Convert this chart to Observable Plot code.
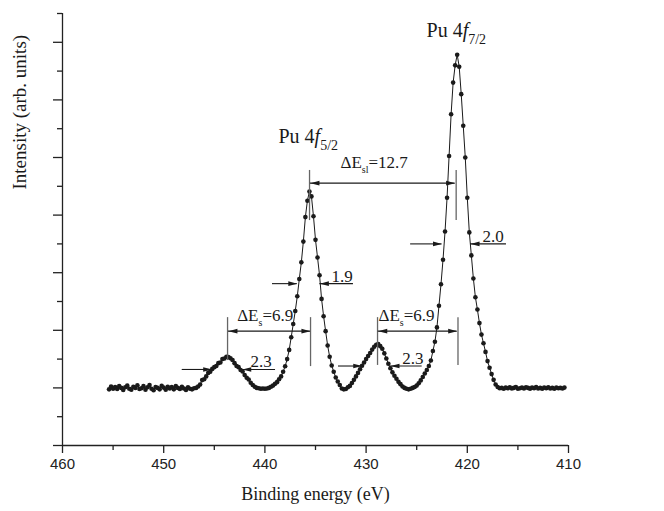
<!DOCTYPE html>
<html><head><meta charset="utf-8">
<script src="https://cdn.jsdelivr.net/npm/d3@7"></script>
<script src="https://cdn.jsdelivr.net/npm/@observablehq/plot@0.6"></script>
<style>body{margin:0;background:#fff}#chart{width:664px;height:511px}</style>
</head><body><div id="chart"></div>
<script>
// Binding energy grid (eV)
const energy = [
455.4,455.2,455.0,454.8,454.6,454.4,454.2,454.0,453.8,453.6,
453.4,453.2,453.0,452.8,452.6,452.4,452.2,452.0,451.8,451.6,
451.4,451.2,451.0,450.8,450.6,450.4,450.2,450.0,449.8,449.6,
449.4,449.2,449.0,448.8,448.6,448.4,448.2,448.0,447.8,447.6,
447.4,447.2,447.0,
446.8,446.6,446.4,446.2,446.0,445.8,445.6,445.4,445.2,445.0,
444.8,444.6,444.4,444.2,444.0,443.8,443.6,443.4,443.2,443.0,
442.8,442.6,442.4,442.2,442.0,441.8,441.6,441.4,441.2,441.0,
440.8,440.6,440.4,440.2,440.0,439.8,439.6,439.4,439.2,439.0,
438.8,438.6,438.4,438.2,438.0,
437.8,437.6,437.4,437.2,437.0,436.8,436.6,436.4,436.2,436.0,
435.8,435.6,435.4,435.2,435.0,434.8,434.6,434.4,434.2,434.0,
433.8,433.6,433.4,433.2,433.0,432.8,432.6,432.4,432.2,432.0,
431.8,431.6,431.4,431.2,431.0,430.8,430.6,430.4,430.2,430.0,
429.8,429.6,429.4,429.2,429.0,428.8,428.6,428.4,428.2,428.0,
427.8,427.6,427.4,427.2,427.0,
426.8,426.6,426.4,426.2,426.0,425.8,425.6,425.4,425.2,425.0,
424.8,424.6,424.4,424.2,424.0,423.8,423.6,423.4,423.2,423.0,
422.8,422.6,422.4,422.2,422.0,421.8,421.6,421.4,421.2,421.0,
420.8,420.6,420.4,420.2,420.0,419.8,419.6,419.4,419.2,419.0,
418.8,418.6,418.4,418.2,418.0,417.8,417.6,417.4,417.2,417.0,
416.8,416.6,416.4,416.2,416.0,415.8,415.6,415.4,415.2,415.0,
414.8,414.6,414.4,414.2,414.0,413.8,413.6,413.4,413.2,413.0,
412.8,412.6,412.4,412.2,412.0,411.8,411.6,411.4,411.2,411.0,
410.8,410.6,410.4
];
// Intensity (arb. units)
const intensity = [
1.95,2.05,1.97,2.03,1.96,2.06,2.00,1.93,2.02,2.08,
1.97,1.94,2.04,2.00,2.09,1.96,1.99,2.06,1.94,2.02,
2.10,1.97,1.92,2.03,2.00,1.95,2.07,2.01,1.94,2.04,
1.98,2.03,1.95,2.06,2.00,1.96,2.04,1.98,1.93,2.02,
1.97,1.95,1.99,
2.00,2.05,2.12,2.27,2.30,2.40,2.52,2.56,2.66,2.72,
2.76,2.86,2.88,3.00,3.02,3.08,3.07,3.03,2.97,2.86,
2.76,2.72,2.62,2.57,2.45,2.35,2.29,2.18,2.10,2.04,
2.00,1.99,1.97,1.98,1.97,1.98,2.00,2.04,2.08,2.14,
2.20,2.30,2.40,2.56,2.75,
3.00,3.32,3.76,4.22,4.67,5.18,5.78,6.36,7.08,7.93,
8.50,8.82,8.65,7.96,7.14,6.53,5.91,5.09,4.49,3.97,
3.47,3.08,2.78,2.56,2.36,2.22,2.10,1.98,1.95,1.96,
2.02,2.07,2.17,2.28,2.40,2.52,2.65,2.77,2.88,3.00,
3.11,3.21,3.33,3.43,3.50,3.52,3.45,3.36,3.20,3.02,
2.84,2.68,2.54,2.42,2.32,
2.21,2.13,2.05,2.00,1.97,1.95,1.97,2.00,2.03,2.08,
2.16,2.26,2.38,2.50,2.62,2.76,2.95,3.28,3.60,4.10,
4.85,5.60,6.45,7.43,8.60,10.05,11.50,12.60,13.20,13.57,
13.15,12.20,11.10,10.00,8.60,7.40,6.60,5.80,5.15,4.72,
4.25,3.85,3.55,3.25,2.93,2.70,2.48,2.28,2.12,2.03,
1.99,2.00,1.97,2.01,1.99,2.02,1.98,2.00,2.03,1.97,
1.99,2.01,1.98,2.02,2.00,1.97,2.01,1.99,2.03,1.98,
2.00,1.97,2.01,1.99,2.02,1.98,2.00,1.97,2.01,1.99,
2.00,1.98,2.01
];
const xMajorTicks = [460, 450, 440, 430, 420, 410];
const xMinorTicks = [455, 445, 435, 425, 415];
const yMajorTicks = [0, 2, 4, 6, 8, 10, 12, 14];
const yMinorTicks = [1, 3, 5, 7, 9, 11, 13, 15];
const xTitle = "Binding energy (eV)";
const yTitle = "Intensity (arb. units)";

// annotation texts (x in eV, y in intensity units, baseline)
const labels = [
  {x: 424.03, y: 14.17, text: "Pu 4f7/2"},
  {x: 438.66, y: 10.49, text: "Pu 4f5/2"},
  {x: 432.53, y: 9.62, text: "ΔEsl=12.7"},
  {x: 433.42, y: 5.69, text: "1.9"},
  {x: 418.50, y: 7.08, text: "2.0"},
  {x: 442.74, y: 4.34, text: "ΔEs=6.9"},
  {x: 428.78, y: 4.34, text: "ΔEs=6.9"},
  {x: 441.42, y: 2.72, text: "2.3"},
  {x: 426.43, y: 2.84, text: "2.3"}
];
const arrowLines = [
  {x1: 435.5, x2: 421.2, y: 9.11},
  {x1: 439.25, x2: 436.8, y: 5.62},
  {x1: 434.57, x2: 431.25, y: 5.62},
  {x1: 425.6, x2: 422.5, y: 7.0},
  {x1: 419.68, x2: 416.13, y: 7.0},
  {x1: 443.6, x2: 435.5, y: 3.97},
  {x1: 428.8, x2: 421.0, y: 3.97},
  {x1: 448.17, x2: 445.21, y: 2.64},
  {x1: 442.24, x2: 438.95, y: 2.64},
  {x1: 432.73, x2: 430.38, y: 2.76},
  {x1: 427.59, x2: 424.46, y: 2.76}
];
const arrowHeads = [
  {x: 435.5, y: 9.11, dir: "left"}, {x: 421.2, y: 9.11, dir: "right"},
  {x: 436.8, y: 5.62, dir: "right"}, {x: 434.57, y: 5.62, dir: "left"},
  {x: 422.5, y: 7.0, dir: "right"}, {x: 419.68, y: 7.0, dir: "left"},
  {x: 443.6, y: 3.97, dir: "left"}, {x: 435.5, y: 3.97, dir: "right"},
  {x: 428.8, y: 3.97, dir: "left"}, {x: 421.0, y: 3.97, dir: "right"},
  {x: 445.21, y: 2.64, dir: "right"}, {x: 442.24, y: 2.64, dir: "left"},
  {x: 430.38, y: 2.76, dir: "right"}, {x: 427.59, y: 2.76, dir: "left"}
];
const markerLines = [
  {x: 435.59, y1: 7.81, y2: 9.55},
  {x: 421.10, y1: 7.81, y2: 9.55},
  {x: 443.69, y1: 2.95, y2: 4.44},
  {x: 435.49, y1: 2.74, y2: 4.44},
  {x: 428.87, y1: 2.78, y2: 4.44},
  {x: 420.92, y1: 2.78, y2: 4.44}
];

const spectrum = energy.map((e, i) => ({energy: e, intensity: intensity[i]}))
  .filter(d => d.intensity != null);

const headSymbol = {draw(ctx) { ctx.moveTo(0, 0); ctx.lineTo(-9, -2.3); ctx.lineTo(-9, 2.3); ctx.closePath(); }};
const serif = "'Liberation Serif', 'Times New Roman', serif";
const ink = "#1a1a1a";

const plot = Plot.plot({
  width: 664, height: 511,
  marginLeft: 62, marginRight: 96, marginTop: 13, marginBottom: 66,
  style: {fontFamily: "'Liberation Sans', Arial, sans-serif", fontSize: "15px", color: "#222", background: "#fff"},
  x: {domain: [460, 410]},
  y: {domain: [0, 15]},
  marks: [
    Plot.axisX({ticks: xMajorTicks, tickSize: 8, tickPadding: 5, label: null, fontSize: 15, strokeWidth: 1.3, stroke: "#222", fill: "#222"}),
    Plot.axisX({ticks: xMinorTicks, tickSize: 5, tickFormat: () => "", label: null, strokeWidth: 1.3, stroke: "#222"}),
    Plot.axisY({ticks: yMajorTicks, tickSize: 9, tickFormat: () => "", label: null, strokeWidth: 1.3, stroke: "#222"}),
    Plot.axisY({ticks: yMinorTicks, tickSize: 5, tickFormat: () => "", label: null, strokeWidth: 1.3, stroke: "#222"}),
    Plot.ruleY([0], {stroke: "#222", strokeWidth: 1.3}),
    Plot.ruleX([460], {stroke: "#222", strokeWidth: 1.3}),
    Plot.line(spectrum, {x: "energy", y: "intensity", stroke: ink, strokeWidth: 1}),
    Plot.dot(spectrum, {x: "energy", y: "intensity", r: 2.3, fill: ink, stroke: "none"}),
    Plot.ruleX(markerLines, {x: "x", y1: "y1", y2: "y2", stroke: "#666", strokeWidth: 1.3}),
    Plot.ruleY(arrowLines, {y: "y", x1: "x1", x2: "x2", stroke: ink, strokeWidth: 1.1}),
    Plot.dot(arrowHeads, {x: "x", y: "y", symbol: headSymbol, rotate: d => d.dir === "right" ? 0 : 180, fill: ink, stroke: "none", r: 3}),
    Plot.text(labels, {x: "x", y: "y", text: "text", textAnchor: "start", lineAnchor: "bottom", fontFamily: serif, fontSize: 17, fill: ink}),
    Plot.text([xTitle], {text: d => d, frameAnchor: "bottom", dy: 54, fontFamily: serif, fontSize: 18, fill: ink}),
    Plot.text([yTitle], {text: d => d, frameAnchor: "left", rotate: -90, dx: -43, dy: -40, fontFamily: serif, fontSize: 19, fill: ink})
  ]
});

// subscripts and italics inside the annotation texts
plot.querySelectorAll("text").forEach(t => {
  const s = t.textContent;
  let m = /^Pu 4f(\d\/2)$/.exec(s);
  if (m) {
    t.setAttribute("font-size", "20");
    t.innerHTML = `Pu 4<tspan font-style="italic">f</tspan><tspan font-size="14" dy="7">${m[1]}</tspan>`;
    return;
  }
  m = /^ΔE([a-z]+)(=.+)$/.exec(s);
  if (m) { t.innerHTML = `ΔE<tspan font-size="10" dy="5">${m[1]}</tspan><tspan dy="-5">${m[2]}</tspan>`; }
});
document.getElementById("chart").appendChild(plot);
</script>
</body></html>
